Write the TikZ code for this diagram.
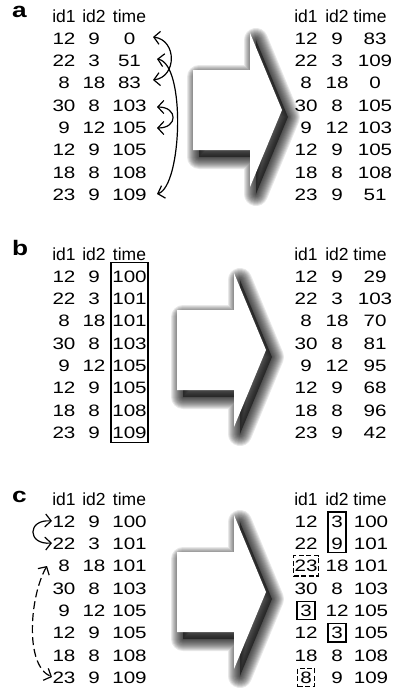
\documentclass[tikz,border=0pt]{standalone}
\usepackage{fontspec}
\setmainfont{Liberation Sans}
\usetikzlibrary{arrows.meta,fit,calc}

% widen the digits a little
\newcommand{\hstretch}[1]{\scalebox{1.25}[1]{#1}}

% one table: prefix, x of id1, x of id2, x of time header, x of time values, y of header, rows
\newcommand{\datatable}[7]{%
  \node[headcell] (#1-h1) at (#2,#6) {id1};
  \node[headcell] (#1-h2) at (#3,#6) {id2};
  \node[headcell] (#1-h3) at (#4,#6) {time};
  \foreach \i/\p/\q/\r in {#7} {
    \node[cell] (#1-\i-1) at (#2,{#6+22.3*\i}) {\hstretch{\p}};
    \node[cell] (#1-\i-2) at (#3,{#6+22.3*\i}) {\hstretch{\q}};
    \node[cell] (#1-\i-3) at (#5,{#6+22.3*\i}) {\hstretch{\r}};
  }%
}

\tikzset{
  cell/.style={inner sep=0pt, font=\fontsize{16.5}{18}\selectfont,
    text height=11.8pt, text depth=0pt, anchor=center},
  headcell/.style={inner sep=0pt, font=\fontsize{17.5}{20}\selectfont,
    text height=12.5pt, text depth=0pt, anchor=center},
  panellabel/.style={inner sep=0pt, anchor=base west,
    font=\fontsize{21}{24}\selectfont\bfseries},
  hlbox/.style={draw, line width=1.2pt, inner xsep=3pt, inner ysep=3pt},
  dashbox/.style={hlbox, dash pattern=on 5pt off 2.5pt},
  swaparrow/.style={line width=1.2pt,
    {Straight Barb[length=6pt,width=13pt]}-{Straight Barb[length=6pt,width=13pt]}},
  % white block arrow with a soft drop shadow; origin = left end of shaft, middle
  bigarrow/.pic={
    \foreach \w in {24,22,...,2} {
      \draw[black, opacity=0.09, line width=\w pt, line join=round, shift={(6,7)}]
        (0,-40) -- (57,-40) -- (57,-77) -- (89,0) -- (57,77) -- (57,40) -- (0,40) -- cycle;
    }
    \fill[black, opacity=0.5, shift={(6,7)}]
      (0,-40) -- (57,-40) -- (57,-77) -- (89,0) -- (57,77) -- (57,40) -- (0,40) -- cycle;
    \fill[white] (0,-40) -- (57,-40) -- (57,-77) -- (89,0) -- (57,77) -- (57,40) -- (0,40) -- cycle;
  },
}

\begin{document}
\begin{tikzpicture}[x=1pt, y=-1pt]
\useasboundingbox (0,0) rectangle (396,688);

% ---------------- panel a ----------------
\node[panellabel] (la) at (12,17) {\hstretch{a}};
\pic (arrA) at (193,110) {bigarrow};
\datatable{al}{64}{94}{129.5}{129.5}{16}{1/12/9/0, 2/22/3/51, 3/8/18/83, 4/30/8/103, 5/9/12/105, 6/12/9/105, 7/18/8/108, 8/23/9/109}
\datatable{ar}{306}{337}{370}{375}{16}{1/12/9/83, 2/22/3/109, 3/8/18/0, 4/30/8/105, 5/9/12/103, 6/12/9/105, 7/18/8/108, 8/23/9/51}

\coordinate (sa1) at (153,37);
\coordinate (sa3) at (153,80);
\coordinate (sb2) at (157,59);
\coordinate (sb8) at (157,194);
\coordinate (sc4) at (157,107);
\coordinate (sc5) at (157,128);
\draw[swaparrow] (sa1) .. controls (177,40) and (177,77) .. (sa3);
\draw[swaparrow] (sb2) .. controls (186,64) and (182,186) .. (sb8);
\draw[swaparrow] (sc4) .. controls (178,107) and (178,128) .. (sc5);

% ---------------- panel b ----------------
\node[panellabel] (lb) at (12,255) {\hstretch{b}};
\pic (arrB) at (177,350) {bigarrow};
\datatable{bl}{64}{94}{129.5}{129.5}{254}{1/12/9/100, 2/22/3/101, 3/8/18/101, 4/30/8/103, 5/9/12/105, 6/12/9/105, 7/18/8/108, 8/23/9/109}
\datatable{br}{306}{337}{370}{375}{254}{1/12/9/29, 2/22/3/103, 3/8/18/70, 4/30/8/81, 5/9/12/95, 6/12/9/68, 7/18/8/96, 8/23/9/42}
\draw[line width=1.2pt] ($(bl-1-3.north west)+(-1,-8)$) rectangle ($(bl-8-3.south east)+(1,4)$);

% ---------------- panel c ----------------
\node[panellabel] (lc) at (12,502) {\hstretch{c}};
\pic (arrC) at (177,592) {bigarrow};
\datatable{cl}{64}{94}{129.5}{129.5}{499}{1/12/9/100, 2/22/3/101, 3/8/18/101, 4/30/8/103, 5/9/12/105, 6/12/9/105, 7/18/8/108, 8/23/9/109}
\datatable{cr}{306}{337}{370}{371}{499}{1/12/3/100, 2/22/9/101, 3/23/18/101, 4/30/8/103, 5/3/12/105, 6/12/3/105, 7/18/8/108, 8/8/9/109}

\node[hlbox, line width=1.5pt, fit=(cr-1-2)(cr-2-2)] (boxid2top) {};
\node[dashbox, inner xsep=0.8pt, inner ysep=4pt, fit=(cr-3-1)] (box23) {};
\node[hlbox, fit=(cr-5-1)] (box3a) {};
\node[hlbox, fit=(cr-6-2)] (box3b) {};
\node[dashbox, inner xsep=2.5pt, fit=(cr-8-1)] (box8) {};

\coordinate (sd1) at (52,521);
\coordinate (sd2) at (52,543);
\coordinate (se3) at (47,566);
\coordinate (se8) at (52,677);
\draw[swaparrow] (sd1) .. controls (27,519) and (27,545) .. (sd2);
\draw[swaparrow, dash pattern=on 8pt off 4pt] (se3) .. controls (30,595) and (24,665) .. (se8);
\end{tikzpicture}
\end{document}
